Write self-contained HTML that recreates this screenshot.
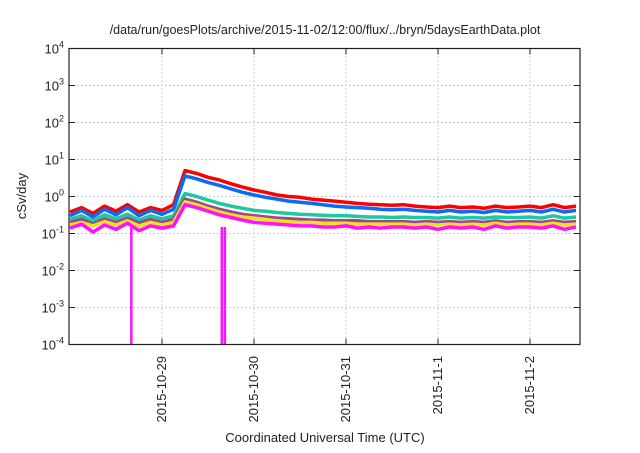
<!DOCTYPE html>
<html><head><meta charset="utf-8"><style>
body{margin:0;background:#fff;}
svg text{font-family:"Liberation Sans",sans-serif;fill:#222;}
</style></head><body>
<svg width="640" height="448" viewBox="0 0 640 448">
<text x="325" y="34" font-size="12.5" text-anchor="middle">/data/run/goesPlots/archive/2015-11-02/12:00/flux/../bryn/5daysEarthData.plot</text>
<g id="grid"></g>
<g id="series"></g>
<rect x="69" y="48.5" width="511" height="296" fill="none" stroke="#222" stroke-width="1.2"/>
<g id="axes"></g>
<text x="26" y="196" font-size="13" text-anchor="middle" transform="rotate(-90 26 196)">cSv/day</text>
<text x="325" y="442" font-size="13" text-anchor="middle">Coordinated Universal Time (UTC)</text>
</svg>
<script>
const hours=[0,3,6,9,12,15,18,21,24,27,30,33,36,39,42,45,48,51,54,57,60,63,66,69,72,75,78,81,84,87,90,93,96,99,102,105,108,111,114,117,120,123,126,129,132];
const red=[0.38,0.5,0.35,0.55,0.4,0.6,0.38,0.5,0.42,0.6,5.0,4.2,3.3,2.8,2.2,1.8,1.5,1.3,1.1,1.0,0.95,0.85,0.8,0.75,0.7,0.65,0.62,0.6,0.58,0.6,0.55,0.52,0.5,0.55,0.5,0.52,0.48,0.55,0.5,0.52,0.55,0.5,0.6,0.5,0.55];
const blue=[0.3,0.42,0.28,0.45,0.32,0.5,0.3,0.42,0.33,0.45,3.6,3.0,2.4,2.0,1.6,1.3,1.1,0.95,0.85,0.75,0.7,0.65,0.6,0.55,0.52,0.5,0.48,0.45,0.44,0.45,0.42,0.4,0.38,0.42,0.38,0.4,0.37,0.42,0.38,0.4,0.42,0.38,0.45,0.38,0.42];
const teal=[0.24,0.3,0.22,0.32,0.25,0.33,0.23,0.3,0.25,0.3,1.2,1.0,0.8,0.65,0.55,0.48,0.42,0.4,0.37,0.35,0.33,0.32,0.31,0.3,0.3,0.29,0.28,0.28,0.27,0.28,0.27,0.27,0.26,0.28,0.26,0.27,0.26,0.28,0.27,0.27,0.28,0.26,0.3,0.26,0.28];
const purple=[0.2,0.24,0.18,0.25,0.2,0.26,0.19,0.24,0.2,0.24,0.85,0.7,0.55,0.45,0.38,0.33,0.3,0.28,0.26,0.25,0.24,0.23,0.23,0.22,0.22,0.22,0.21,0.21,0.21,0.21,0.2,0.21,0.2,0.21,0.2,0.21,0.2,0.22,0.2,0.21,0.21,0.2,0.22,0.2,0.21];
const yellow=[0.17,0.2,0.16,0.21,0.17,0.22,0.16,0.2,0.17,0.2,0.72,0.6,0.47,0.38,0.32,0.28,0.26,0.24,0.22,0.21,0.2,0.2,0.19,0.19,0.19,0.18,0.18,0.18,0.18,0.18,0.17,0.18,0.17,0.18,0.17,0.18,0.17,0.19,0.17,0.18,0.18,0.17,0.19,0.17,0.18];
const magenta=[0.14,0.18,0.11,0.17,0.13,0.19,0.12,0.16,0.14,0.16,0.6,0.5,0.4,0.32,0.27,0.23,0.2,0.19,0.18,0.17,0.16,0.16,0.15,0.15,0.16,0.14,0.15,0.14,0.15,0.15,0.14,0.15,0.13,0.15,0.14,0.15,0.13,0.16,0.14,0.15,0.15,0.14,0.16,0.13,0.15];
const magentaDropHours=[16,39.6,40.4];
const yExponents=[-4,-3,-2,-1,0,1,2,3,4];
const xTickLabels=["2015-10-29","2015-10-30","2015-10-31","2015-11-1","2015-11-2"];
const xTickHours=[24,48,72,96,120];

const NS="http://www.w3.org/2000/svg";
const X0=69,X1=580,Y0=48.5,Y1=344.5;
function xOf(h){return 162+(h-24)*92/24;}
function yOf(v){const l=Math.log10(Math.max(v,1e-4));return Y1-(l+4)/8*(Y1-Y0);}
function mk(t,a,p){const e=document.createElementNS(NS,t);for(const k in a)e.setAttribute(k,a[k]);p.appendChild(e);return e;}
const grid=document.getElementById('grid'),axes=document.getElementById('axes'),ser=document.getElementById('series');
yExponents.forEach(e=>{
  const y=yOf(Math.pow(10,e));
  if(e>-4&&e<4){const g=mk('line',{x1:X0,x2:X1,y1:y,y2:y,stroke:'#bbb','stroke-dasharray':'1.5 2.5','stroke-width':1},grid);
  
  }
  const t1=mk('line',{x1:X0,x2:X0+6,y1:y,y2:y,stroke:'#222'},axes);
  
  
  const t2=mk('line',{x1:X1,x2:X1-6,y1:y,y2:y,stroke:'#222'},axes);
  
  
  const tx=mk('text',{x:64,y:y+5,'font-size':13,'text-anchor':'end'},axes);
  
  
  const b=mk('tspan',{'font-size':13},tx);b.textContent='10';
  const sp=mk('tspan',{dy:-6,'font-size':9},tx);sp.textContent=String(e);
});
xTickHours.forEach((h,i)=>{
  const x=xOf(h);
  const g=mk('line',{x1:x,x2:x,y1:Y0,y2:Y1,stroke:'#bbb','stroke-dasharray':'1.5 2.5'},grid);
  
  
  const t1=mk('line',{x1:x,x2:x,y1:Y1,y2:Y1-6,stroke:'#222'},axes);
  
  
  const t2=mk('line',{x1:x,x2:x,y1:Y0,y2:Y0+6,stroke:'#222'},axes);
  
  
  const tx=mk('text',{x:x+4,y:356,'font-size':13,'text-anchor':'end',transform:`rotate(-90 ${x+4} 356)`},axes);
  
  
  tx.textContent=xTickLabels[i];
});
const list=[[red,'#ff0000','red'],[blue,'#0a6cf0','blue'],[teal,'#1ec8a0','teal'],[purple,'#9a4a8a','purple'],[yellow,'#f0e020','yellow'],[magenta,'#ff10ff','magenta']];
list.forEach(([d,c,n])=>{
  const pts=hours.map((h,i)=>xOf(h).toFixed(1)+','+yOf(d[i]).toFixed(1)).join(' ');
  const p=mk('polyline',{points:pts,fill:'none',stroke:c,'stroke-width':3.5,'stroke-linejoin':'round'},ser);
  
  
});
magentaDropHours.forEach(h=>{
  const x=xOf(h);
  const l=mk('line',{x1:x,x2:x,y1:yOf(0.15),y2:Y1,stroke:'#ff10ff','stroke-width':2.5},ser);
  
  
});
</script>
</body></html>
